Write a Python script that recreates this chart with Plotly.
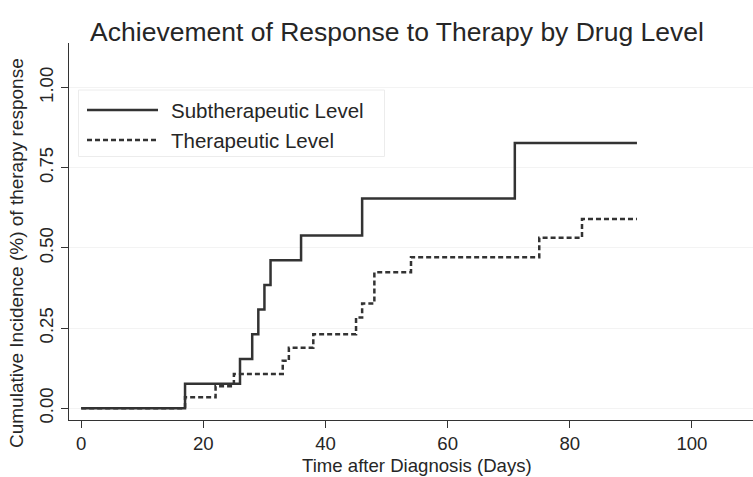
import plotly.graph_objects as go

# ---- data ----
sub_days = [0, 17, 26, 28, 29, 30, 31, 36, 46, 71, 91]
sub_ci = [0.0, 0.0769, 0.1538, 0.2308, 0.3077, 0.3846, 0.4615, 0.5385, 0.654, 0.827, 0.827]

ther_days = [0, 17, 22, 25, 33, 34, 38, 45, 46, 48, 54, 75, 82, 91]
ther_ci = [0.0, 0.0345, 0.069, 0.107, 0.148, 0.189, 0.231, 0.283, 0.327, 0.424, 0.471, 0.532, 0.590, 0.590]

series_names = ["Subtherapeutic Level", "Therapeutic Level"]
x_ticks = [0, 20, 40, 60, 80, 100]
y_ticks = [0.0, 0.25, 0.5, 0.75, 1.0]

title_text = "Achievement of Response to Therapy by Drug Level"
x_title = "Time after Diagnosis (Days)"
y_title = "Cumulative Incidence (%) of therapy response"

# ---- layout geometry ----
W, H = 753, 477
L, R, T, B = 69, 0, 43, 57
PW, PH = W - L - R, H - T - B
FONT = "Liberation Sans, Arial, Helvetica, sans-serif"
INK = "#333333"
TXT = "#262626"


def px(xp):
    return (xp - L) / PW


def py(yp):
    return (H - B - yp) / PH


fig = go.Figure()
fig.add_trace(go.Scatter(x=sub_days, y=sub_ci, mode="lines", name=series_names[0],
                         line=dict(shape="hv", color=INK, width=2.5), showlegend=False))
fig.add_trace(go.Scatter(x=ther_days, y=ther_ci, mode="lines", name=series_names[1],
                         line=dict(shape="hv", color=INK, width=2.5, dash="5px,3px"),
                         showlegend=False))

shapes = [
    # legend box
    dict(type="rect", xref="paper", yref="paper", x0=px(78.5), x1=px(384.5), y0=py(156.5), y1=py(90),
         line=dict(color="#ececec", width=1), fillcolor="white", layer="below"),
    dict(type="line", xref="paper", yref="paper", x0=px(87), x1=px(158), y0=py(110), y1=py(110),
         line=dict(color=INK, width=2.5)),
    dict(type="line", xref="paper", yref="paper", x0=px(87), x1=px(158), y0=py(140), y1=py(140),
         line=dict(color=INK, width=2.5, dash="5px,3px")),
]

annotations = [
    dict(text=series_names[0], xref="paper", yref="paper", x=px(169), y=py(110),
         xanchor="left", yanchor="middle", showarrow=False, font=dict(size=20.5, color=TXT, family=FONT)),
    dict(text=series_names[1], xref="paper", yref="paper", x=px(169), y=py(140),
         xanchor="left", yanchor="middle", showarrow=False, font=dict(size=20.5, color=TXT, family=FONT)),
    dict(text=x_title, xref="paper", yref="paper", x=px(417), y=py(465),
         xanchor="center", yanchor="middle", showarrow=False, font=dict(size=18.6, color=TXT, family=FONT)),
    dict(text=y_title, xref="paper", yref="paper", x=px(16), y=py(253), textangle=-90,
         xanchor="center", yanchor="middle", showarrow=False, font=dict(size=19, color=TXT, family=FONT)),
]

fig.update_layout(
    width=W, height=H,
    margin=dict(l=L, r=R, t=T, b=B, pad=0),
    paper_bgcolor="white", plot_bgcolor="white",
    font=dict(family=FONT, color=TXT, size=18.6),
    title=dict(text=title_text, x=397 / W, xanchor="center", xref="container",
               y=1 - 32 / H, yanchor="middle", font=dict(size=26.5, color=TXT, family=FONT)),
    shapes=shapes,
    annotations=annotations,
    showlegend=False,
)

fig.update_xaxes(
    range=[-2, 110], tickvals=x_ticks, ticktext=[str(v) for v in x_ticks],
    showgrid=False, zeroline=False, showline=True, linecolor=INK, linewidth=1.3,
    ticks="outside", ticklen=7, tickwidth=1.2, tickcolor=INK,
    tickfont=dict(size=18.6, color=TXT, family=FONT),
)
fig.update_yaxes(
    range=[-0.0365, 1.139], tickvals=y_ticks, ticktext=[f"{v:.2f}" for v in y_ticks],
    tickangle=-90, showgrid=True, gridcolor="#f3f3f3", gridwidth=1,
    zeroline=False, showline=True, linecolor=INK, linewidth=1.3,
    ticks="outside", ticklen=7, tickwidth=1.2, tickcolor=INK,
    tickfont=dict(size=18.6, color=TXT, family=FONT),
)

fig.write_html(
    "out.html",
    config={"displayModeBar": False},
    post_script="document.body.style.margin='0px';document.body.style.overflow='hidden';",
)
